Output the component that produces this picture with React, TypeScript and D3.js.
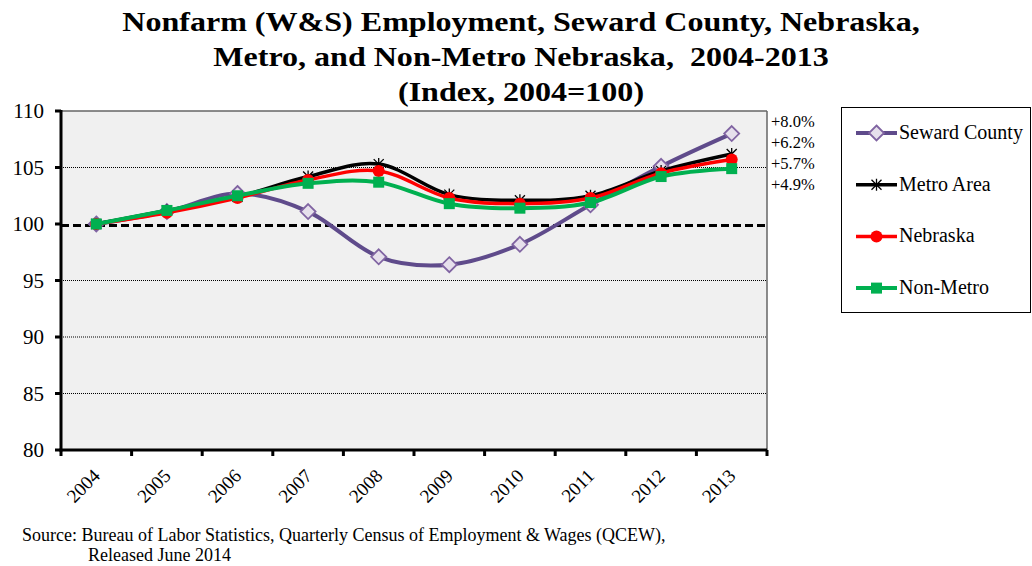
import React from "react";
import * as d3 from "d3";

const years = ["2004", "2005", "2006", "2007", "2008", "2009", "2010", "2011", "2012", "2013"];
const seward = [100, 101.1, 102.7, 101.1, 97.1, 96.4, 98.2, 101.7, 105.1, 108.0];
const metro = [100, 101.2, 102.4, 104.2, 105.3, 102.6, 102.1, 102.5, 104.7, 106.2];
const nebraska = [100, 101.0, 102.3, 103.9, 104.7, 102.3, 101.8, 102.3, 104.5, 105.7];
const nonMetro = [100, 101.2, 102.5, 103.6, 103.7, 101.8, 101.4, 101.9, 104.2, 104.9];
const yTicks = [80, 85, 90, 95, 100, 105, 110];
const changeLabels = ["+8.0%", "+6.2%", "+5.7%", "+4.9%"];
const seriesNames = ["Seward County", "Metro Area", "Nebraska", "Non-Metro"];
const titleLines = [
  "Nonfarm (W&S) Employment, Seward County, Nebraska,",
  "Metro, and Non-Metro Nebraska,  2004-2013",
  "(Index, 2004=100)",
];
const sourceLines = [
  "Source: Bureau of Labor Statistics, Quarterly Census of Employment & Wages (QCEW),",
  "Released June 2014",
];

const W = 1032;
const H = 566;
const plot = { left: 61, right: 767, top: 111, bottom: 450 };
const FONT = "'Liberation Serif', 'Times New Roman', serif";

const series = [
  { name: seriesNames[0], values: seward, color: "#5f4b8b", width: 4, marker: "diamond" },
  { name: seriesNames[1], values: metro, color: "#000000", width: 3.5, marker: "star" },
  { name: seriesNames[2], values: nebraska, color: "#ff0000", width: 3.5, marker: "circle" },
  { name: seriesNames[3], values: nonMetro, color: "#00b050", width: 4, marker: "square" },
];

function Marker({ type, x, y }: { type: string; x: number; y: number }) {
  if (type === "diamond") {
    const s = 7.5;
    return (
      <path
        d={`M${x},${y - s}L${x + s},${y}L${x},${y + s}L${x - s},${y}Z`}
        fill="#e6e0ec"
        stroke="#8064a2"
        strokeWidth={1.8}
      />
    );
  }
  if (type === "star") {
    const s = 5;
    return (
      <path
        d={`M${x - s},${y - s}L${x + s},${y + s}M${x - s},${y + s}L${x + s},${y - s}M${x},${y - s - 1}L${x},${y + s + 1}`}
        stroke="#000"
        strokeWidth={1.3}
        fill="none"
      />
    );
  }
  if (type === "circle") {
    return <circle cx={x} cy={y} r={6} fill="#ff0000" />;
  }
  return <rect x={x - 5.5} y={y - 5.5} width={11} height={11} fill="#00b050" />;
}

export default function App() {
  const x = d3.scaleBand().domain(years).range([plot.left, plot.right]).padding(0);
  const y = d3.scaleLinear().domain([80, 110]).range([plot.bottom, plot.top]);
  const cx = (yr: string) => (x(yr) as number) + x.bandwidth() / 2;
  const line = d3
    .line<number>()
    .x((_, i) => cx(years[i]))
    .y((v) => y(v))
    .curve(d3.curveCardinal.tension(0));
  const boundaries = d3.range(years.length + 1).map((i) => plot.left + i * x.bandwidth());

  return (
    <svg
      width={W}
      height={H}
      style={{ position: "absolute", left: 0, top: 0, background: "#fff" }}
      fontFamily={FONT}
    >
      {/* title */}
      {titleLines.map((t, i) => (
        <text
          key={i}
          transform={`translate(521,${31 + i * 35}) scale(1.145,1)`}
          textAnchor="middle"
          fontSize={28}
          fontWeight="bold"
          fill="#000"
          style={{ whiteSpace: "pre" }}
        >
          {t}
        </text>
      ))}

      {/* plot background */}
      <rect x={plot.left} y={plot.top} width={plot.right - plot.left} height={plot.bottom - plot.top} fill="#f0f0f0" />

      {/* gridlines */}
      {yTicks
        .filter((t) => t !== 80 && t !== 110 && t !== 100)
        .map((t) => (
          <line key={t} x1={plot.left} x2={plot.right} y1={y(t)} y2={y(t)} stroke="#000" strokeWidth={1} strokeDasharray="1,1" />
        ))}
      {/* baseline 100 dashed */}
      <line x1={plot.left} x2={plot.right} y1={y(100) + 1.5} y2={y(100) + 1.5} stroke="#000" strokeWidth={3} strokeDasharray="8,4" />

      {/* top and right border */}
      <line x1={plot.left} x2={plot.right} y1={plot.top} y2={plot.top} stroke="#666" strokeWidth={1.5} />
      <line x1={plot.right} x2={plot.right} y1={plot.top} y2={plot.bottom} stroke="#666" strokeWidth={1.5} />

      {/* series */}
      {series.map((s) => (
        <g key={s.name}>
          <path d={line(s.values) || ""} fill="none" stroke={s.color} strokeWidth={s.width} strokeLinejoin="round" />
          {s.values.map((v, i) => (
            <Marker key={i} type={s.marker} x={cx(years[i])} y={y(v)} />
          ))}
        </g>
      ))}

      {/* axes */}
      <line x1={plot.left} x2={plot.left} y1={plot.top - 1} y2={plot.bottom + 1.5} stroke="#000" strokeWidth={3} />
      <line x1={plot.left - 1.5} x2={plot.right} y1={plot.bottom} y2={plot.bottom} stroke="#000" strokeWidth={3} />
      {yTicks.map((t) => (
        <g key={t}>
          <line x1={plot.left - 6} x2={plot.left} y1={y(t)} y2={y(t)} stroke="#000" strokeWidth={3} />
          <text x={44} y={y(t) + 7} textAnchor="end" fontSize={21} fill="#000">
            {t}
          </text>
        </g>
      ))}
      {boundaries.map((b, i) => (
        <line key={i} x1={b} x2={b} y1={plot.bottom} y2={plot.bottom + 6} stroke="#000" strokeWidth={3} />
      ))}
      {years.map((yr) => (
        <text
          key={yr}
          transform={`translate(${cx(yr) + 5},${plot.bottom + 27}) rotate(-45)`}
          textAnchor="end"
          fontSize={19}
          fill="#000"
        >
          {yr}
        </text>
      ))}

      {/* change labels */}
      {changeLabels.map((c, i) => (
        <text key={c} x={771} y={127 + i * 21} fontSize={16.5} fill="#000">
          {c}
        </text>
      ))}

      {/* legend */}
      <rect x={841.5} y={107.5} width={189} height={205} fill="#fff" stroke="#000" strokeWidth={1} />
      {series.map((s, i) => {
        const ly = 133 + i * 51.7;
        return (
          <g key={s.name}>
            <line x1={856} x2={897} y1={ly} y2={ly} stroke={s.color} strokeWidth={s.width} />
            <Marker type={s.marker} x={876.5} y={ly} />
            <text x={899} y={ly + 6} fontSize={20} fill="#000">
              {s.name}
            </text>
          </g>
        );
      })}

      {/* source */}
      {sourceLines.map((t, i) => (
        <text key={i} x={i === 0 ? 22 : 88} y={541 + i * 20} fontSize={18} fill="#000">
          {t}
        </text>
      ))}
    </svg>
  );
}
